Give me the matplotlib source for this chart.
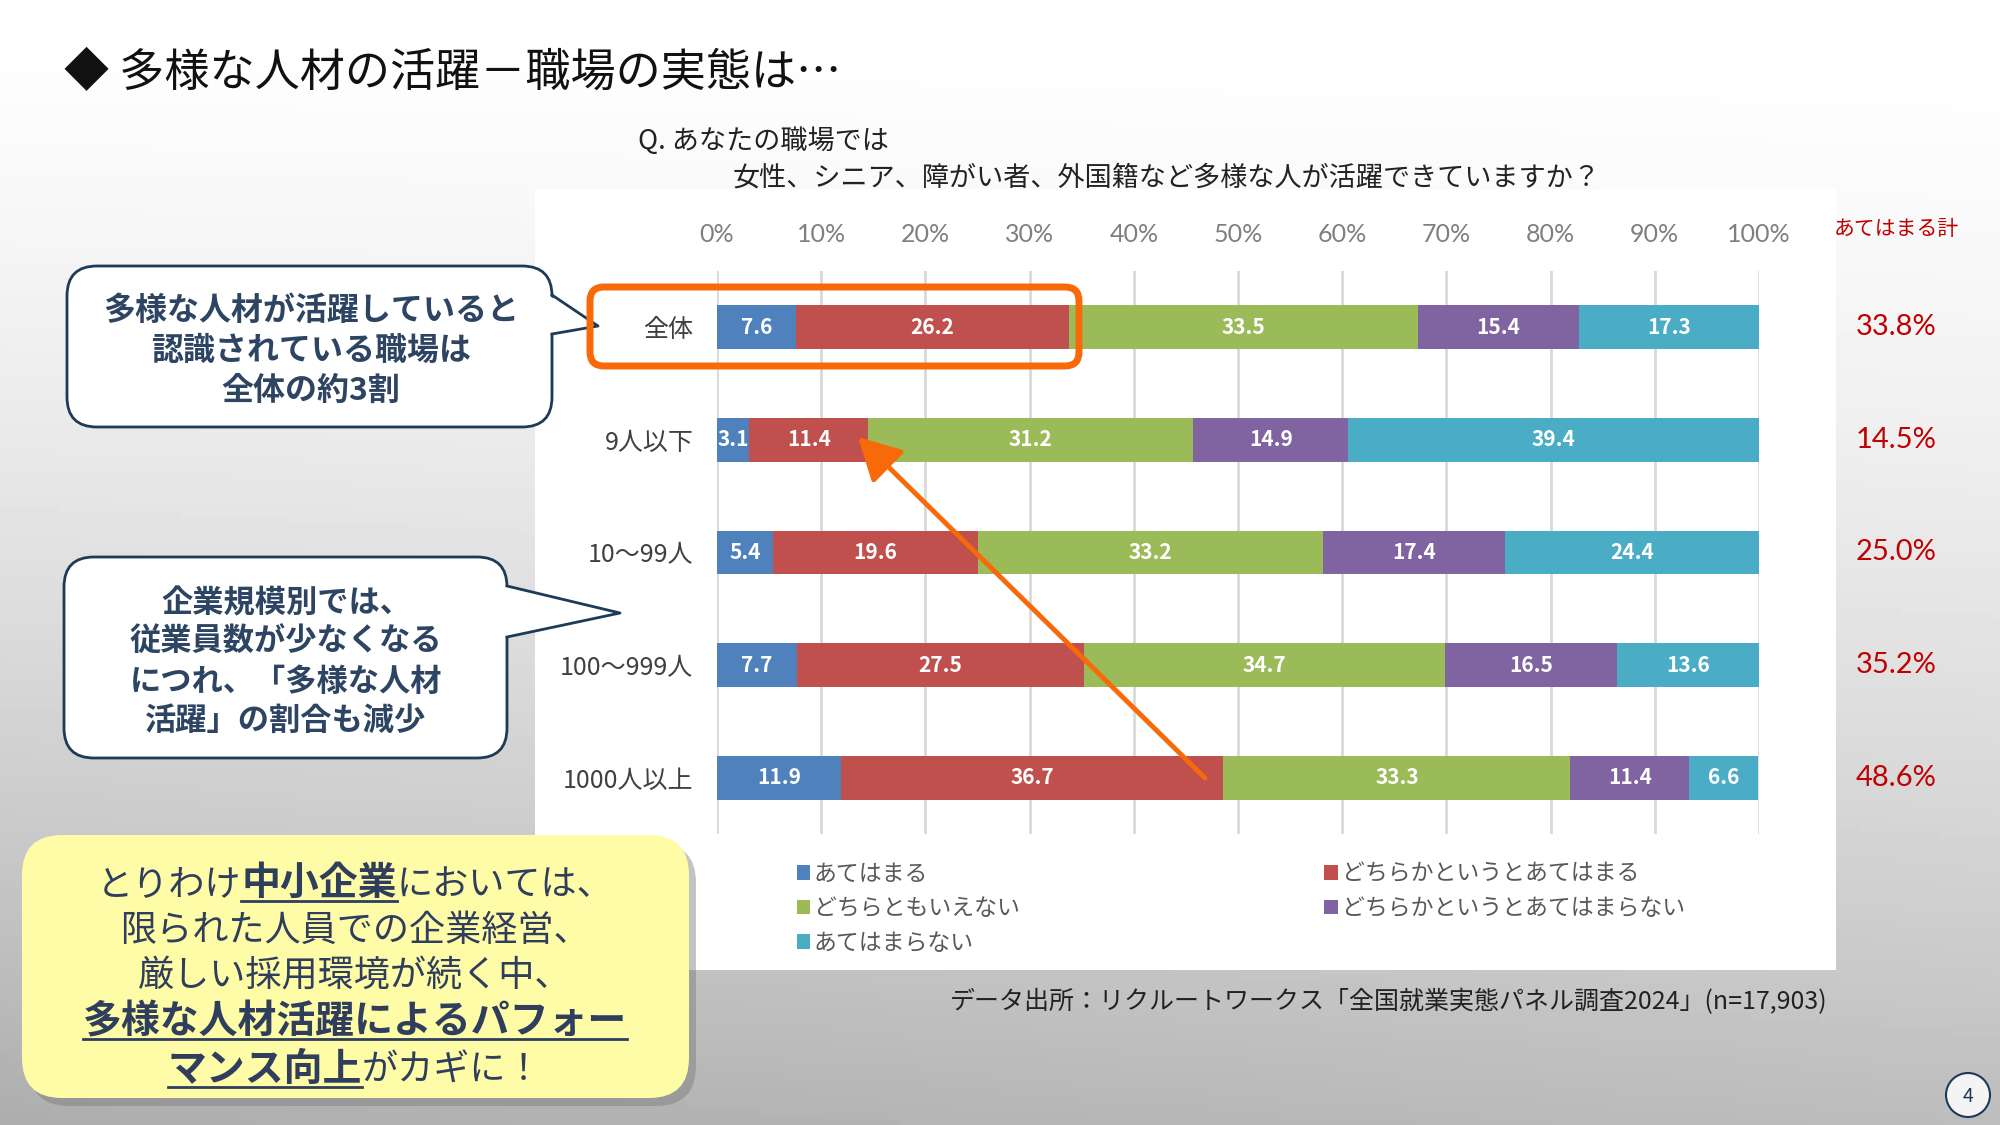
import matplotlib.pyplot as plt
import numpy as np
from matplotlib.patches import FancyBboxPatch, Rectangle, Polygon, Circle

plt.rcParams['font.family'] = ['Noto Sans CJK JP', 'DejaVu Sans']

# data
categories = ['全体', '9人以下', '10～99人', '100～999人', '1000人以上']
series = ['あてはまる', 'どちらかというとあてはまる', 'どちらともいえない',
          'どちらかというとあてはまらない', 'あてはまらない']
atehamaru = [7.6, 3.1, 5.4, 7.7, 11.9]
dochiraka_ate = [26.2, 11.4, 19.6, 27.5, 36.7]
dochiramo = [33.5, 31.2, 33.2, 34.7, 33.3]
dochiraka_nai = [15.4, 14.9, 17.4, 16.5, 11.4]
atehamaranai = [17.3, 39.4, 24.4, 13.6, 6.6]
xticks = [0, 10, 20, 30, 40, 50, 60, 70, 80, 90, 100]

colors = ['#4F81BD', '#C0504D', '#9BBB59', '#8064A2', '#4BACC6']
navy = '#1F3A56'
orange = '#F8690A'

W, H = 2000, 1125
fig = plt.figure(figsize=(20, 11.25), dpi=100)

# background: gradient + white chart panel (pixel coords)
bg = fig.add_axes([0, 0, 1, 1], zorder=0)
bg.set_xlim(0, W); bg.set_ylim(H, 0); bg.axis('off')
yy, xx = np.mgrid[0:1:200j, 0:1:200j]
shade = 1 - 0.26 * yy ** 1.5 - 0.06 * yy * (1 - xx)
bg.imshow(shade, cmap='gray', vmin=0, vmax=1, extent=[0, W, H, 0], aspect='auto')
bg.add_patch(Rectangle((535, 189), 1301, 781, fc='white', ec='none'))

# chart
ax = fig.add_axes([717 / W, 1 - 834 / H, 1042 / W, 563 / H], zorder=1)
ax.patch.set_visible(False)
y = np.arange(len(categories))
left = np.zeros(len(categories))
bars = []
for name, vals, c in zip(series, [atehamaru, dochiraka_ate, dochiramo, dochiraka_nai, atehamaranai], colors):
    b = ax.barh(y, vals, left=left, height=0.39, color=c, label=name, zorder=2)
    for rect, v in zip(b, vals):
        t = ax.text(rect.get_x() + rect.get_width() / 2, rect.get_y() + rect.get_height() / 2,
                    f'{v:.1f}', ha='center', va='center', color='white', fontsize=15,
                    fontweight='bold', zorder=3)
        t.set_clip_path(rect)
    bars.append(b)
    left = left + np.array(vals)

ax.set_xlim(0, 100)
ax.set_ylim(4.5, -0.5)
ax.xaxis.set_ticks_position('top')
ax.set_xticks(xticks)
ax.set_xticklabels([f'{t}%' for t in xticks])
ax.tick_params(axis='x', length=0, pad=18, labelsize=18, labelcolor='#7F7F7F')
for lbl in ax.get_xticklabels():
    lbl.set_fontfamily(['Lato', 'DejaVu Sans'])
ax.set_yticks(y)
ax.set_yticklabels(categories)
ax.tick_params(axis='y', length=0, pad=17, labelsize=18, labelcolor='#404040')
ax.grid(axis='x', color='#D9D9D9', lw=2, zorder=0)
for s in ax.spines.values():
    s.set_visible(False)

# totals column
totals = [a + b for a, b in zip(atehamaru, dochiraka_ate)]
for i, t in enumerate(totals):
    ax.text(1.1315, i, f'{t:.1f}%', transform=ax.get_yaxis_transform(), ha='center',
            va='center', color='#C00000', fontsize=21, family=['Lato', 'DejaVu Sans'])

order = [0, 2, 4, 1, 3]
fig.legend([bars[i] for i in order], [series[i] for i in order], ncol=2, loc='upper left',
           bbox_to_anchor=(776 / W, 1 - 842 / H), frameon=False, fontsize=16.5,
           handlelength=0.6, handleheight=0.6, handletextpad=0.15, labelspacing=0.5,
           columnspacing=13.3, labelcolor='#595959')

# overlay for annotations (pixel coords)
ov = fig.add_axes([0, 0, 1, 1], zorder=2)
ov.set_xlim(0, W); ov.set_ylim(H, 0); ov.axis('off')
ov.patch.set_visible(False)

ov.text(64, 73, '◆ 多様な人材の活躍－職場の実態は…', fontsize=32.5, color='#111111',
        ha='left', va='center')
ov.text(638, 141, 'Q. あなたの職場では', fontsize=19.5, color='#222222', ha='left', va='center')
ov.text(733, 178, '女性、シニア、障がい者、外国籍など多様な人が活躍できていますか？',
        fontsize=19.5, color='#222222', ha='left', va='center')
ov.text(1896, 229, 'あてはまる計', fontsize=15, color='#C00000', ha='center', va='center')

ov.add_patch(FancyBboxPatch((590, 287), 489, 79, boxstyle='round,pad=0,rounding_size=14',
                            fc='none', ec=orange, lw=5, zorder=6))
ov.annotate('', xy=(858, 437), xytext=(1205, 778),
            arrowprops=dict(arrowstyle='-|>,head_length=1.3,head_width=0.7', color=orange,
                            lw=3.5, shrinkA=0, shrinkB=0, mutation_scale=20), zorder=6)


def callout(x0, y0, x1, y1, base1, base2, tip, lines, ys, cx, size):
    ov.add_patch(FancyBboxPatch((x0, y0), x1 - x0, y1 - y0, boxstyle='round,pad=0,rounding_size=30',
                                fc='white', ec=navy, lw=2, zorder=3))
    ov.add_patch(Polygon([(x1 - 4, base1), tip, (x1 - 4, base2)], fc='white', ec='none', zorder=4))
    ov.plot([x1, tip[0], x1], [base1, tip[1], base2], color=navy, lw=2, zorder=5)
    for txt, yv in zip(lines, ys):
        ov.text(cx, yv, txt, fontsize=size, fontweight='bold', color='#2D4563',
                ha='center', va='center', zorder=6)


callout(67, 266, 552, 427, 295, 334, (598, 326),
        ['多様な人材が活躍していると', '認識されている職場は', '全体の約3割'],
        [311, 351, 391], 311, 23)
callout(64, 557, 507, 758, 586, 637, (620, 613),
        ['企業規模別では、', '従業員数が少なくなる', 'につれ、「多様な人材', '活躍」の割合も減少'],
        [603, 642, 682, 721], 286, 22.5)

# yellow message box
ov.add_patch(FancyBboxPatch((29, 843), 667, 263, boxstyle='round,pad=0,rounding_size=40',
                            fc='#7A7A7A', ec='none', alpha=0.45, zorder=3))
ov.add_patch(FancyBboxPatch((22, 835), 667, 263, boxstyle='round,pad=0,rounding_size=40',
                            fc='#FFFCA8', ec='none', zorder=4))

msg_lines = [
    [('とりわけ', False, False), ('中小企業', True, True), ('においては、', False, False)],
    [('限られた人員での企業経営、', False, False)],
    [('厳しい採用環境が続く中、', False, False)],
    [('多様な人材活躍によるパフォー', True, True)],
    [('マンス向上', True, True), ('がカギに！', False, False)],
]
msg_y = [882, 928, 973, 1020, 1068]
renderer = fig.canvas.get_renderer()
for segs, yc in zip(msg_lines, msg_y):
    base = yc + 13
    items = []
    for txt, bold, ul in segs:
        t = ov.text(0, base, txt, fontsize=28 if bold else 26,
                    fontweight='bold' if bold else 'normal',
                    color='#2F3E5C', ha='left', va='baseline', zorder=5)
        items.append((t, t.get_window_extent(renderer).width, ul))
    x = 355 - sum(w for _, w, _ in items) / 2
    for t, w, ul in items:
        t.set_x(x)
        if ul:
            ov.plot([x, x + w], [base + 6, base + 6], color='#2F3E5C', lw=2, zorder=5)
        x += w

ov.text(1389, 1002, 'データ出所：リクルートワークス「全国就業実態パネル調査2024」(n=17,903)',
        fontsize=18, color='#222222', ha='center', va='center')

ov.add_patch(Circle((1968, 1095), 22, fc='#F4F4F4', ec=navy, lw=1.5, zorder=5))
ov.text(1968, 1096, '4', fontsize=14, style='italic', color=navy, ha='center', va='center', zorder=6)

fig.savefig('out.png', dpi=100)
